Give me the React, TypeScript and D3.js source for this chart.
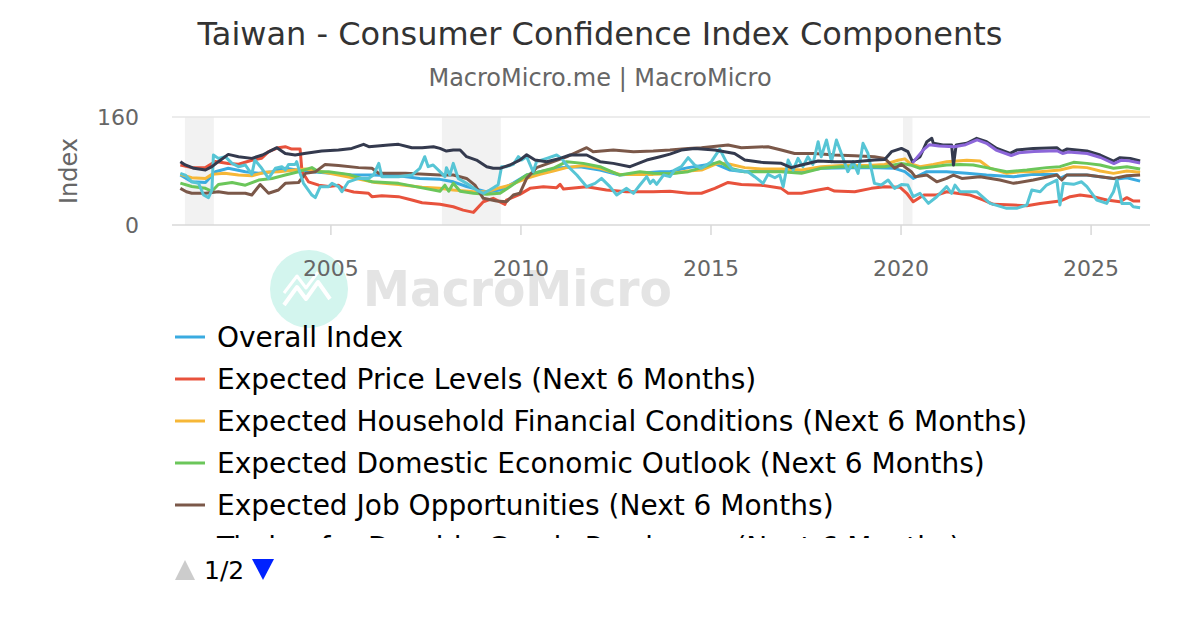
import React from 'react';
import * as d3 from 'd3';

type Pt = [number, number];

const title = 'Taiwan - Consumer Confidence Index Components';
const subtitle = 'MacroMicro.me | MacroMicro';
const yTicks = [0, 160];
const xTicks = [2005, 2010, 2015, 2020, 2025];
const recessions: Pt[] = [[2001.16, 2001.92], [2007.92, 2009.47], [2020.05, 2020.3]];

const overall: Pt[] = [[2001.04,74],[2001.34,64],[2001.7,63],[2001.96,79],[2002.3,84],[2002.75,79],[2003.1,76.5],[2003.45,79],[2003.8,84],[2004.15,81],[2004.5,79],[2005.0,76.5],[2005.55,74],[2006.08,74],[2006.78,73],[2007.34,69],[2007.87,67.6],[2008.22,64],[2008.57,57],[2009.1,49],[2009.45,52],[2009.8,62],[2010.15,74],[2010.5,79],[2011.03,85],[2011.55,86.4],[2012.08,81.4],[2012.6,74],[2013.13,76.5],[2013.66,79],[2013.92,79],[2014.4,85],[2015.1,91],[2015.5,81.4],[2015.89,79],[2016.85,80],[2017.38,79],[2017.9,84],[2019.13,85],[2019.83,84],[2020.1,79],[2020.32,69],[2020.68,79],[2021.2,79],[2021.73,76.5],[2022.25,74],[2022.96,71.6],[2023.48,75],[2024.1,75],[2024.18,69],[2024.36,74],[2024.89,74],[2025.24,71.6],[2025.68,68],[2025.94,70],[2026.29,65]];

const priceLevels: Pt[] = [[2001.04,89],[2001.34,85],[2001.7,85],[2001.96,94],[2002.3,91],[2002.57,90],[2002.92,96],[2003.18,99],[2003.36,108.6],[2003.62,114.5],[2003.8,116],[2003.97,112.5],[2004.19,112.5],[2004.24,79],[2004.41,64],[2004.68,59],[2004.94,57],[2005.2,59],[2005.38,52],[2005.6,49],[2005.99,47],[2006.08,42],[2006.34,43.4],[2006.78,42],[2007.13,37],[2007.4,33],[2007.87,30.6],[2008.22,27],[2008.48,22],[2008.75,18.7],[2009.01,34.5],[2009.27,39.5],[2009.58,30.6],[2009.62,37],[2009.97,45.4],[2010.24,54.3],[2010.59,56.8],[2010.94,55.3],[2011.03,60.2],[2011.12,53.3],[2011.73,56.8],[2012.25,51.8],[2012.78,49.3],[2013.48,49.3],[2013.92,50],[2014.4,47],[2014.75,47],[2015.1,54.3],[2015.45,63],[2015.8,60],[2016.32,59],[2016.85,54.3],[2017.03,47],[2017.38,47],[2017.82,51.8],[2018.08,54.3],[2018.25,50.3],[2018.78,49.3],[2019.22,54.3],[2019.57,56.8],[2019.97,56],[2020.15,47],[2020.32,34.5],[2020.6,44.4],[2020.94,44.4],[2021.2,49.3],[2021.47,47],[2021.82,44.4],[2022.17,37],[2022.43,30.6],[2022.96,29.6],[2023.31,28.6],[2023.66,32],[2024.18,35.5],[2024.45,42],[2024.71,44.4],[2025.06,42],[2025.41,37],[2025.76,34.5],[2025.94,40.5],[2026.11,35.5],[2026.29,35.5]];

const household: Pt[] = [[2001.04,75],[2001.34,70],[2001.7,69],[2001.87,75],[2002.2,76.5],[2002.57,74],[2002.92,73],[2003.27,78],[2003.62,79],[2004.06,81.4],[2004.33,83],[2004.76,79],[2005.2,74],[2005.73,68],[2006.17,63],[2006.78,60],[2007.4,56],[2007.87,54.3],[2008.22,51.8],[2008.75,49.3],[2009.1,49.3],[2009.45,55.3],[2009.71,59],[2010.15,69],[2010.5,75],[2010.85,80],[2011.2,85],[2011.64,88],[2012.08,84],[2012.6,75],[2013.13,75],[2013.48,75],[2013.92,76],[2014.4,80],[2014.75,81.4],[2015.2,92],[2015.5,90],[2015.89,85],[2016.32,83],[2016.85,83],[2017.38,81.4],[2017.9,86.4],[2018.43,88],[2019.13,88],[2019.57,89.8],[2019.92,96],[2020.1,98],[2020.24,91],[2020.5,86.4],[2020.85,89.8],[2021.2,93.8],[2021.73,96],[2022.08,94.8],[2022.34,84],[2022.78,76.5],[2023.13,79],[2023.66,79],[2024.18,81.4],[2024.54,86.4],[2024.89,85],[2025.24,80],[2025.59,76.5],[2025.94,80],[2026.29,78]];

const economy: Pt[] = [[2001.04,62],[2001.34,57],[2001.7,54.3],[2001.87,50],[2002.04,60],[2002.4,63],[2002.75,59],[2003.1,66.6],[2003.45,69],[2003.8,74],[2004.15,79],[2004.5,85],[2004.68,79],[2004.94,79],[2005.46,75],[2006.08,64],[2006.78,61.7],[2007.4,55],[2007.87,50],[2008.0,59],[2008.1,50],[2008.22,61.7],[2008.4,50],[2008.75,47],[2009.1,45.4],[2009.45,47],[2009.71,56.8],[2010.15,74],[2010.5,79],[2010.85,84],[2011.2,93.8],[2011.64,91.3],[2012.08,86.4],[2012.6,74],[2013.13,79],[2013.48,76.5],[2013.92,76],[2014.4,79],[2014.75,85],[2015.23,93.8],[2015.5,84],[2015.89,79],[2016.85,79],[2017.38,76.5],[2017.9,84],[2018.43,86.4],[2019.57,86.4],[2020.01,91.3],[2020.24,89],[2020.5,84],[2020.85,86.4],[2021.2,89],[2021.55,89.8],[2021.9,89],[2022.25,85],[2022.78,79],[2023.31,81.4],[2023.83,85],[2024.18,86.4],[2024.54,92.8],[2024.89,91.3],[2025.24,89],[2025.59,84],[2025.94,86.4],[2026.29,83]];

const jobs: Pt[] = [[2001.04,54.3],[2001.2,49.3],[2001.34,47],[2001.7,47],[2002.04,49.3],[2002.3,47],[2002.75,47],[2002.92,44.4],[2003.14,60],[2003.36,47],[2003.62,51.8],[2003.8,61.7],[2004.15,63],[2004.33,76.5],[2004.6,79],[2004.85,89.8],[2005.2,88],[2005.73,85],[2006.08,84],[2006.26,76.5],[2006.96,76.5],[2007.87,74],[2008.22,74],[2008.57,69],[2008.79,59],[2009.01,39.5],[2009.36,35.5],[2009.62,34.5],[2009.8,44.4],[2009.97,47],[2010.15,69],[2010.41,85],[2010.85,93.8],[2011.2,101],[2011.73,114.5],[2011.9,108.6],[2012.43,111],[2012.96,108.6],[2013.48,109.6],[2013.92,111],[2014.4,113.5],[2014.75,114.5],[2015.45,118.5],[2015.8,114.5],[2016.5,116],[2016.85,111],[2017.2,106],[2017.73,106],[2018.25,103.7],[2018.78,102.7],[2019.3,101.2],[2019.57,98.7],[2019.83,84],[2020.01,89.8],[2020.27,79],[2020.37,71.6],[2020.68,74],[2020.94,64],[2021.2,69],[2021.38,74],[2021.6,69],[2022.08,71.6],[2022.6,66.6],[2022.96,61.7],[2023.48,66.6],[2024.1,74],[2024.23,66.6],[2024.36,74],[2024.89,74],[2025.24,71.6],[2025.59,69],[2025.94,73],[2026.29,74]];

const durables: Pt[] = [[2001.04,76.5],[2001.17,74],[2001.34,64],[2001.52,61.7],[2001.65,44.4],[2001.78,40.5],[2001.87,51.8],[2001.91,103.7],[2002.04,98.7],[2002.22,101.2],[2002.4,91.3],[2002.57,86.4],[2002.75,88.9],[2002.92,75],[2003.0,96.2],[2003.18,84],[2003.36,69],[2003.54,84],[2003.71,86.4],[2003.8,81.4],[2003.89,89.8],[2004.06,89.8],[2004.1,93.8],[2004.19,76.5],[2004.28,61.7],[2004.5,44.4],[2004.59,40.5],[2004.72,56.8],[2004.94,56.8],[2005.03,61.7],[2005.2,56.8],[2005.29,49.3],[2005.46,64],[2005.73,69],[2005.99,69],[2006.12,74],[2006.26,91.3],[2006.34,71.6],[2006.78,71.6],[2007.13,74],[2007.34,84],[2007.47,101.2],[2007.56,86.4],[2007.69,88.9],[2007.87,79],[2008.0,71.6],[2008.04,84.9],[2008.13,74],[2008.22,91.3],[2008.35,69],[2008.57,61.7],[2008.83,51.8],[2009.01,46.9],[2009.18,51.8],[2009.32,56.8],[2009.4,59.2],[2009.49,86.4],[2009.62,86.4],[2009.8,89.8],[2009.93,101.2],[2010.02,96.2],[2010.15,101.2],[2010.32,79],[2010.41,93.8],[2010.68,98.7],[2010.94,103.7],[2011.07,98.7],[2011.2,88.9],[2011.47,74],[2011.73,56.8],[2011.95,61.7],[2012.12,69],[2012.34,56.8],[2012.52,44.4],[2012.78,54.3],[2012.96,46.9],[2013.13,59.2],[2013.31,71.6],[2013.4,61.7],[2013.48,66.6],[2013.57,60.2],[2013.75,74],[2013.92,71.6],[2014.04,81.4],[2014.22,86.4],[2014.4,99.7],[2014.57,88.9],[2014.75,84],[2015.01,93.8],[2015.23,112.5],[2015.4,93.8],[2015.58,81.4],[2015.97,79],[2016.15,71.6],[2016.37,61.7],[2016.5,75],[2016.68,70],[2016.81,74],[2016.9,56.8],[2017.03,96.2],[2017.16,81.4],[2017.29,98.7],[2017.42,86.4],[2017.55,101.2],[2017.68,89.8],[2017.82,123.4],[2017.9,101.2],[2018.04,125.9],[2018.17,93.8],[2018.3,125.9],[2018.43,106],[2018.6,79],[2018.74,93.8],[2018.87,76.5],[2019.0,121],[2019.13,106],[2019.3,61.7],[2019.48,59.2],[2019.66,66.6],[2019.83,54.3],[2020.01,60],[2020.18,59.2],[2020.32,41.9],[2020.5,46.9],[2020.72,32],[2020.94,41.9],[2021.2,56.8],[2021.33,46.9],[2021.42,59.2],[2021.55,49.3],[2021.99,49.3],[2022.34,32],[2022.78,24.7],[2023.04,24.7],[2023.31,29.6],[2023.44,51.8],[2023.66,49.3],[2023.83,59.2],[2024.1,66.6],[2024.18,29.6],[2024.27,61.7],[2024.54,60.2],[2024.75,64],[2024.89,56.8],[2025.15,37],[2025.41,32],[2025.59,49.3],[2025.68,66.6],[2025.81,32],[2026.03,32],[2026.11,27],[2026.29,25.7]];

const stocks: Pt[] = [[2001.04,93.8],[2001.17,89],[2001.4,84],[2001.7,81.5],[2001.87,86.4],[2002.04,93.8],[2002.3,104.6],[2002.57,101.2],[2002.92,98.7],[2003.2,103.7],[2003.45,111],[2003.58,114.5],[2003.8,106],[2004.06,103.7],[2004.3,106],[2004.76,109.6],[2005.2,111],[2005.55,113.5],[2005.86,119.5],[2006.0,116],[2006.52,118.5],[2006.78,119.5],[2007.13,114.5],[2007.4,114.5],[2007.7,116],[2007.87,113.5],[2008.04,109.6],[2008.22,111],[2008.4,111],[2008.57,101.2],[2008.83,96.2],[2009.1,86.4],[2009.27,84],[2009.45,84],[2009.71,88.9],[2009.97,96.2],[2010.15,104],[2010.37,96.2],[2010.68,93.8],[2011.03,98.7],[2011.29,103.7],[2011.73,103.7],[2012.08,93.8],[2012.43,91.3],[2012.87,86.4],[2013.31,96.2],[2013.66,101.2],[2013.92,105],[2014.22,111],[2014.57,113.5],[2015.1,111],[2015.62,106],[2015.89,96.2],[2016.32,92.8],[2016.85,91.3],[2017.11,85],[2017.38,88.9],[2017.82,94.8],[2018.25,93.8],[2018.78,93.8],[2019.3,96.2],[2019.57,97.2],[2019.75,108.6],[2020.01,113.5],[2020.18,108.6],[2020.3,93.8],[2020.5,101.2],[2020.68,123.4],[2020.81,128.4],[2020.85,121],[2021.1,118.5],[2021.33,118.5],[2021.38,88.9],[2021.45,118.5],[2021.73,121],[2021.99,128.4],[2022.25,123.4],[2022.52,113.5],[2022.87,106],[2023.04,111],[2023.48,113.5],[2024.1,114.5],[2024.23,108.6],[2024.36,112.5],[2024.89,109.6],[2025.24,103.7],[2025.59,94.8],[2025.76,99.7],[2026.03,98.7],[2026.29,94.8]];

const extra: Pt[] = [[2020.3,92],[2020.6,112],[2020.75,119],[2021.0,117],[2021.4,116],[2021.7,119],[2022.0,126],[2022.25,121],[2022.5,111],[2022.9,103],[2023.1,107],[2023.5,109],[2024.1,110],[2024.25,106],[2024.4,108],[2024.9,106],[2025.25,100],[2025.6,91],[2025.8,96],[2026.0,95],[2026.29,92]];

const seriesNames = [
  'Overall Index',
  'Expected Price Levels (Next 6 Months)',
  'Expected Household Financial Conditions (Next 6 Months)',
  'Expected Domestic Economic Outlook (Next 6 Months)',
  'Expected Job Opportunities (Next 6 Months)',
  'Timing for Durable Goods Purchases (Next 6 Months)',
  'Expected Stock Investment (Next 6 Months)',
  'Expected Stock Investment (New)',
];
const seriesData = [overall, priceLevels, household, economy, jobs, durables, stocks, extra];
const seriesColors = ['#3aabe0', '#e8523c', '#f6b737', '#6bc65a', '#7b5849', '#57c5d5', '#343a4e', '#8c66d9'];

const left = 172, right = 1150, top = 117, bottom = 225;

export default function App() {
  const x = d3.scaleLinear().domain([2000.82, 2026.55]).range([left, right]);
  const y = d3.scaleLinear().domain([0, 160]).range([bottom, top]);
  const line = d3.line<Pt>().x(d => x(d[0])).y(d => y(d[1]));
  const font = 'DejaVu Sans, sans-serif';
  const legendTop = 337;
  const legendStep = 42;

  return (
    <svg width={1200} height={630} style={{position: 'absolute', left: 0, top: 0, background: '#fff'}} fontFamily={font}>
      <rect width={1200} height={630} fill="#fff" />
      <text x={600} y={45} textAnchor="middle" fontSize={32} fill="#333">{title}</text>
      <text x={600} y={86} textAnchor="middle" fontSize={24} fill="#666">{subtitle}</text>

      {/* watermark */}
      <g>
        <circle cx={309} cy={289} r={39} fill="#d3f5ee" />
        <polyline points="284,305 297,287 306,299 318,282 330,299" fill="none" stroke="#fff" strokeWidth={4} strokeLinejoin="round" />
        <polyline points="284,293 297,276 306,288 318,272" fill="none" stroke="#fff" strokeWidth={3} strokeLinejoin="round" />
        <text x={363} y={306} fontSize={50} fontWeight="bold" fill="#e4e4e4" textLength={309} lengthAdjust="spacingAndGlyphs">MacroMicro</text>
      </g>

      {recessions.map((r, i) => (
        <rect key={i} x={x(r[0])} y={top} width={x(r[1]) - x(r[0])} height={bottom - top} fill="#f2f2f2" />
      ))}

      {yTicks.map(t => (
        <g key={t}>
          <line x1={left} x2={right} y1={y(t)} y2={y(t)} stroke={t === 0 ? '#d8d8d8' : '#e6e6e6'} strokeWidth={1.5} />
          <text x={139} y={y(t) + 8} textAnchor="end" fontSize={22} fill="#666">{t}</text>
        </g>
      ))}
      <text transform={`translate(77,${(top + bottom) / 2}) rotate(-90)`} textAnchor="middle" fontSize={24} fill="#666">Index</text>

      {xTicks.map(t => (
        <g key={t}>
          <line x1={x(t)} x2={x(t)} y1={bottom} y2={bottom + 10} stroke="#d8d8d8" strokeWidth={1.5} />
          <text x={x(t)} y={276} textAnchor="middle" fontSize={22} fill="#666">{t}</text>
        </g>
      ))}

      {seriesData.map((d, i) => (
        <path key={i} d={line(d) || ''} fill="none" stroke={seriesColors[i]} strokeWidth={3} strokeLinejoin="round" />
      ))}

      <defs>
        <clipPath id="legendClip">
          <rect x={160} y={312} width={1000} height={226} />
        </clipPath>
      </defs>
      <g clipPath="url(#legendClip)">
        {seriesNames.slice(0, 6).map((name, i) => (
          <g key={name} transform={`translate(0,${legendTop + i * legendStep})`}>
            <line x1={175} x2={205} y1={0} y2={0} stroke={seriesColors[i]} strokeWidth={3} />
            <text x={217} y={10} fontSize={28} fill="#000">{name}</text>
          </g>
        ))}
      </g>

      <path d="M175,580 L195,580 L185,560 Z" fill="#cccccc" />
      <text x={204} y={579} fontSize={25} fill="#000">1/2</text>
      <path d="M252,559 L274,559 L263,580 Z" fill="#0022ff" />
    </svg>
  );
}
